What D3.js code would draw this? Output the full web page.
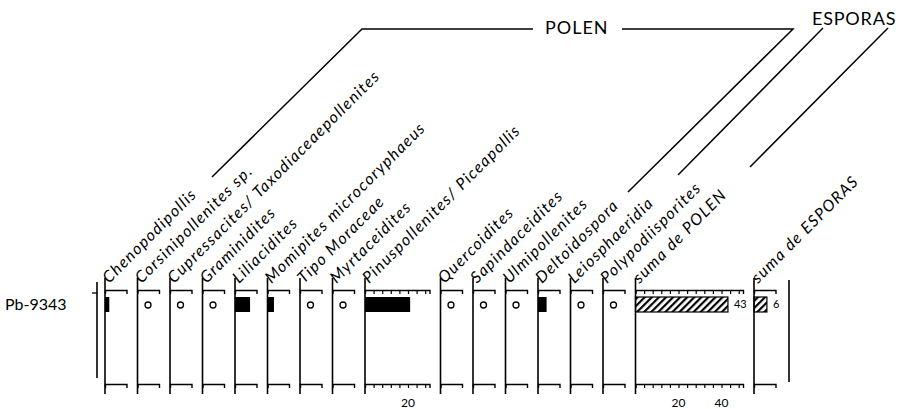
<!DOCTYPE html>
<html>
<head>
<meta charset="utf-8">
<script src="https://cdn.jsdelivr.net/npm/d3@7"></script>
<style>
body { margin: 0; background: #fff; }
svg { display: block; }
text { font-family: Lato, "Open Sans", sans-serif; fill: #000; }
</style>
</head>
<body>
<svg width="901" height="409"></svg>
<script>
// taxa, in column order
var taxa = [
  "Chenopodipollis", "Corsinipollenites sp.", "Cupressacites/ Taxodiaceaepollenites",
  "Graminidites", "Liliacidites", "Momipites microcoryphaeus", "Tipo Moraceae",
  "Myrtaceidites", "Pinuspollenites/ Piceapollis", "Quercoidites", "Sapindaceidites",
  "Ulmipollenites", "Deltoidospora", "Leiosphaeridia", "Polypodiisporites",
  "suma de POLEN", "suma de ESPORAS"
];
// counts for sample Pb-9343 (0 = present, drawn as a circle)
var counts = [2, 0, 0, 0, 7, 3, 0, 0, 21, 0, 0, 0, 4, 0, 0, 43, 6];
var axisMax = [10, 10, 10, 10, 10, 10, 10, 10, 30, 10, 10, 10, 10, 10, 10, 50, 10];
var pinusTicks = [4, 8, 12, 16, 20, 24, 28];
var pinusTickLabels = [20];
var sumaTicks = [4, 8, 12, 16, 20, 24, 28, 32, 36, 40, 44, 48];
var sumaTickLabels = [20, 40];
var sample = "Pb-9343";

var svg = d3.select("svg");
var k = 2.15, gap = 11, x0 = 105;
var yTop = 290, yBot = 384, barY = 297, barH = 15;

// hatch for the sums
svg.append("defs").append("pattern")
    .attr("id", "hatch")
    .attr("patternUnits", "userSpaceOnUse")
    .attr("width", 5).attr("height", 5)
    .attr("patternTransform", "rotate(45)")
  .append("rect")
    .attr("width", 2.2).attr("height", 5)
    .attr("fill", "#000");

// panel positions
var px = [];
var cur = x0;
taxa.forEach(function(t, i) {
  px.push(cur);
  cur += axisMax[i] * k + gap;
});

taxa.forEach(function(t, i) {
  var x = d3.scaleLinear().domain([0, axisMax[i]]).range([px[i], px[i] + axisMax[i] * k]);
  var ticks = i === 8 ? pinusTicks : (i === 15 ? sumaTicks : []);
  var labels = i === 8 ? pinusTickLabels : (i === 15 ? sumaTickLabels : []);
  var g = svg.append("g");

  g.append("line")
      .attr("x1", px[i]).attr("x2", px[i])
      .attr("y1", 278).attr("y2", 394)
      .attr("stroke", "#000").attr("stroke-width", 1.6);

  [yTop, yBot].forEach(function(y) {
    var ax = g.append("g")
        .attr("transform", "translate(0," + y + ")")
        .call(d3.axisBottom(x).tickValues(ticks).tickSize(4).tickSizeOuter(4).tickFormat(""));
    ax.select(".domain").attr("stroke-width", 1.4);
    ax.selectAll(".tick line").attr("stroke-width", 1.2);
  });

  g.selectAll(".lbl")
    .data(labels)
    .enter().append("text")
      .attr("x", function(d) { return x(d); })
      .attr("y", 407)
      .attr("text-anchor", "middle")
      .style("font-size", "12px")
      .text(function(d) { return d; });

  var v = counts[i];
  var isSum = t.indexOf("suma") === 0;
  if (v > 0) {
    g.append("rect")
        .attr("x", px[i])
        .attr("y", barY)
        .attr("width", x(v) - px[i])
        .attr("height", barH)
        .attr("fill", isSum ? "url(#hatch)" : "#000")
        .attr("stroke", isSum ? "#000" : "none")
        .attr("stroke-width", 1.2);
    if (isSum) {
      g.append("text")
          .attr("x", x(v) + 6)
          .attr("y", barY + 11)
          .style("font-size", "11px")
          .text(v);
    }
  } else {
    g.append("circle")
        .attr("cx", px[i] + 10.5)
        .attr("cy", 305)
        .attr("r", 3)
        .attr("fill", "none")
        .attr("stroke", "#000")
        .attr("stroke-width", 1.3);
  }

  svg.append("text")
      .attr("transform", "translate(" + (px[i] + 4) + ",284) rotate(-45)")
      .style("font-size", "16px")
      .style("font-style", "italic")
      .style("letter-spacing", "1.3px")
      .text(t);
});

// right border line
svg.append("line")
    .attr("x1", 789).attr("x2", 789).attr("y1", 280).attr("y2", 382)
    .attr("stroke", "#000").attr("stroke-width", 1.6);

// depth axis
svg.append("line").attr("x1", 97).attr("x2", 97).attr("y1", 282).attr("y2", 378)
    .attr("stroke", "#000").attr("stroke-width", 1.6);
svg.append("line").attr("x1", 92).attr("x2", 97).attr("y1", 293).attr("y2", 293)
    .attr("stroke", "#000").attr("stroke-width", 1.3);
svg.append("text")
    .attr("x", 5).attr("y", 310)
    .style("font-size", "16px")
    .text(sample);

// group brackets
var brackets = [
  [[212, 177], [362, 29], [533, 29]],
  [[622, 29], [793, 29], [628, 192]],
  [[823, 28], [678, 175]],
  [[888, 28], [750, 167]]
];
svg.selectAll(".br")
  .data(brackets)
  .enter().append("path")
    .attr("d", d3.line())
    .attr("fill", "none")
    .attr("stroke", "#000")
    .attr("stroke-width", 1.5);

svg.append("text").attr("x", 545).attr("y", 34)
    .style("font-size", "18px").style("letter-spacing", "1px").text("POLEN");
svg.append("text").attr("x", 812).attr("y", 25)
    .style("font-size", "18px").style("letter-spacing", "0.8px").text("ESPORAS");
</script>
</body>
</html>
